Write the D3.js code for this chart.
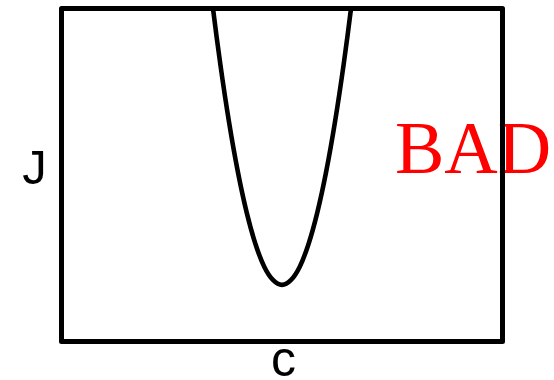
<!DOCTYPE html>
<html>
<head>
<meta charset="utf-8">
<script src="https://cdn.jsdelivr.net/npm/d3@7"></script>
<style>
  html, body { margin: 0; padding: 0; background: #fff; }
  svg { display: block; }
  .axis-label { font-family: "Liberation Sans", Arial, sans-serif; fill: #000; }
  .stamp { font-family: "Liberation Serif", "Times New Roman", serif; fill: #ff0000; }
</style>
</head>
<body>
<div id="chart"></div>
<script>
// cost J against parameter c (curve runs off the top)
const cValues = [3.2, 3.4, 3.6, 3.8, 4.0, 4.2, 4.4, 4.6, 4.8, 5.0, 5.2, 5.4, 5.6, 5.8, 6.0, 6.2, 6.4, 6.6, 6.8]
const jValues = [12.68, 10.38, 8.34, 6.58, 5.09, 3.87, 2.92, 2.24, 1.84, 1.70, 1.84, 2.24, 2.92, 3.87, 5.09, 6.58, 8.34, 10.38, 12.68]
const xDomain = [0, 10]
const yDomain = [0, 10]
const xLabel = 'c'
const yLabel = 'J'
const stamp = 'BAD'

const width = 554
const height = 380
const margin = { top: 8.5, right: 51.5, bottom: 38.5, left: 61.5 }

drawChart(document.getElementById('chart'))

function drawChart(rootElement) {
  const svg = d3.select(rootElement)
    .append('svg')
    .attr('width', width)
    .attr('height', height)

  const x = d3.scaleLinear().domain(xDomain).range([margin.left, width - margin.right])
  const y = d3.scaleLinear().domain(yDomain).range([height - margin.bottom, margin.top])

  drawCurve(svg, x, y)
  drawLabels(svg, x, y)
  drawFrame(svg, x, y)
}

function drawCurve(svg, x, y) {
  const [x0, x1] = x.range()
  const [y1, y0] = y.range()

  svg.append('clipPath')
    .attr('id', 'plot-clip')
    .append('rect')
    .attr('x', x0)
    .attr('y', y0)
    .attr('width', x1 - x0)
    .attr('height', y1 - y0)

  const points = cValues.map((c, i) => [c, jValues[i]])
  const line = d3.line()
    .x(d => x(d[0]))
    .y(d => y(d[1]))
    .curve(d3.curveNatural)

  svg.append('path')
    .datum(points)
    .attr('clip-path', 'url(#plot-clip)')
    .attr('fill', 'none')
    .attr('stroke', '#000')
    .attr('stroke-width', 4.6)
    .attr('stroke-linejoin', 'round')
    .attr('d', line)
}

function drawLabels(svg, x, y) {
  const [x0, x1] = x.range()

  svg.append('text')
    .attr('class', 'axis-label')
    .text(yLabel)
    .attr('x', 34.5)
    .attr('y', 184)
    .attr('text-anchor', 'middle')
    .style('font-size', '49px')

  svg.append('text')
    .attr('class', 'axis-label')
    .text(xLabel)
    .attr('x', (x0 + x1) / 2 + 1.5)
    .attr('y', 376)
    .attr('text-anchor', 'middle')
    .style('font-size', '50px')

  svg.append('text')
    .attr('class', 'stamp')
    .text(stamp)
    .attr('x', 395)
    .attr('y', 172.5)
    .style('font-size', '74px')
}

function drawFrame(svg, x, y) {
  const [x0, x1] = x.range()
  const [y1, y0] = y.range()

  svg.append('rect')
    .attr('x', x0)
    .attr('y', y0)
    .attr('width', x1 - x0)
    .attr('height', y1 - y0)
    .attr('fill', 'none')
    .attr('stroke', '#000')
    .attr('stroke-width', 5)
    .attr('stroke-linejoin', 'round')
}
</script>
</body>
</html>
